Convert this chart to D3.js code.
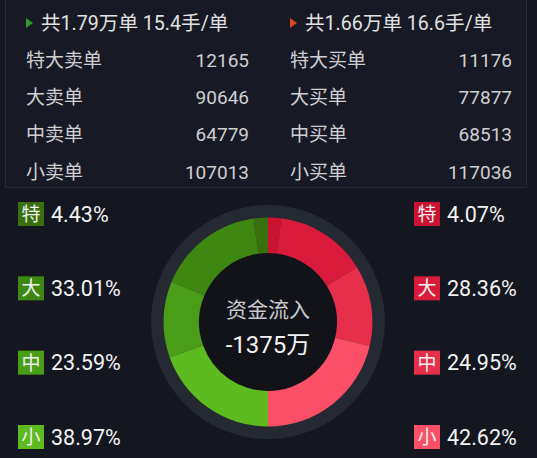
<!DOCTYPE html>
<html>
<head>
<meta charset="utf-8">
<script src="https://cdn.jsdelivr.net/npm/d3@7"></script>
<style>
  html, body { margin: 0; padding: 0; background: #141720; }
  svg { display: block; }
  text { font-family: Roboto, "Noto Sans CJK SC", "Noto Sans", sans-serif; }
</style>
</head>
<body>
<svg id="chart" width="537" height="458"></svg>
<script>
// Order categories (extra large, large, medium, small)
const levels = ["特", "大", "中", "小"];

// Sell side: order counts and capital share (%)
const sellLabels = ["特大卖单", "大卖单", "中卖单", "小卖单"];
const sellCounts = [12165, 90646, 64779, 107013];
const sellShares = [4.43, 33.01, 23.59, 38.97];
const sellSummary = "共1.79万单 15.4手/单";

// Buy side: order counts and capital share (%)
const buyLabels = ["特大买单", "大买单", "中买单", "小买单"];
const buyCounts = [11176, 77877, 68513, 117036];
const buyShares = [4.07, 28.36, 24.95, 42.62];
const buySummary = "共1.66万单 16.6手/单";

// Net inflow caption
const centerTitle = "资金流入";
const centerValue = "-1375万";

const greens = ["#3a6f10", "#3e8711", "#4a9d17", "#5dbb20"];
const reds = ["#cb1231", "#d91a3b", "#e72f4b", "#fb4e67"];

const svg = d3.select("#chart");

// Summary table panel
svg.append("rect")
  .attr("x", 5.5).attr("y", -1).attr("width", 521).attr("height", 188.5)
  .attr("fill", "#171a24").attr("stroke", "#262a35").attr("stroke-width", 1);

const rowY = d3.scalePoint().domain(d3.range(5)).range([23, 172]);

function table(x0, xRight, summary, arrowColor, labels, counts) {
  const g = svg.append("g");
  g.append("path")
    .attr("d", `M${x0},${rowY(0) - 5} L${x0 + 7},${rowY(0)} L${x0},${rowY(0) + 5} Z`)
    .attr("fill", arrowColor);
  g.append("text")
    .attr("x", x0 + 15).attr("y", rowY(0)).attr("dy", "0.35em")
    .attr("fill", "#e2e2e2").attr("font-size", 19.6)
    .text(summary);
  labels.forEach((lab, i) => {
    g.append("text")
      .attr("x", x0).attr("y", rowY(i + 1)).attr("dy", "0.35em")
      .attr("fill", "#cfcfd2").attr("font-size", 19)
      .text(lab);
    g.append("text")
      .attr("x", xRight).attr("y", rowY(i + 1)).attr("dy", "0.35em")
      .attr("text-anchor", "end")
      .attr("fill", "#cfcfd2").attr("font-size", 19)
      .text(counts[i]);
  });
}
table(26, 249, sellSummary, "#2f9a25", sellLabels, sellCounts);
table(290, 512, buySummary, "#e0451c", buyLabels, buyCounts);

// Category share labels on both sides
const labY = d3.scalePoint().domain(levels).range([214, 437]);

function shareLabels(x0, colors, shares) {
  const g = svg.append("g");
  levels.forEach((lv, i) => {
    const y = labY(lv);
    g.append("rect")
      .attr("x", x0).attr("y", y - 12).attr("width", 26).attr("height", 24)
      .attr("fill", colors[i]);
    g.append("text")
      .attr("x", x0 + 13).attr("y", y).attr("dy", "0.36em")
      .attr("text-anchor", "middle")
      .attr("fill", "#f0f0f0").attr("font-size", 19)
      .text(lv);
    g.append("text")
      .attr("x", x0 + 33).attr("y", y).attr("dy", "0.36em")
      .attr("fill", "#f2f2f2").attr("font-size", 21.5)
      .text(d3.format(".2f")(shares[i]) + "%");
  });
}
shareLabels(18, greens, sellShares);
shareLabels(414, reds, buyShares);

// Donut: buy side fills the right half clockwise, sell side the left half
const cx = 268, cy = 322;
const donut = svg.append("g").attr("transform", `translate(${cx},${cy})`);

donut.append("circle").attr("r", 117).attr("fill", "#252932");
donut.append("circle").attr("r", 69).attr("fill", "#111318");

const arc = d3.arc().innerRadius(69).outerRadius(104.5);

const buyPie = d3.pie().sort(null).startAngle(0).endAngle(Math.PI);
const sellPie = d3.pie().sort(null).startAngle(0).endAngle(-Math.PI);

donut.selectAll("path.buy")
  .data(buyPie(buyShares))
  .join("path").attr("class", "buy")
  .attr("d", arc)
  .attr("fill", (d, i) => reds[i]);

donut.selectAll("path.sell")
  .data(sellPie(sellShares))
  .join("path").attr("class", "sell")
  .attr("d", arc)
  .attr("fill", (d, i) => greens[i]);

donut.append("text")
  .attr("y", -5).attr("text-anchor", "middle")
  .attr("fill", "#c9cad0").attr("font-size", 21)
  .text(centerTitle);
donut.append("text")
  .attr("y", 31).attr("text-anchor", "middle")
  .attr("fill", "#f2f2f2").attr("font-size", 24)
  .text(centerValue);
</script>
</body>
</html>
